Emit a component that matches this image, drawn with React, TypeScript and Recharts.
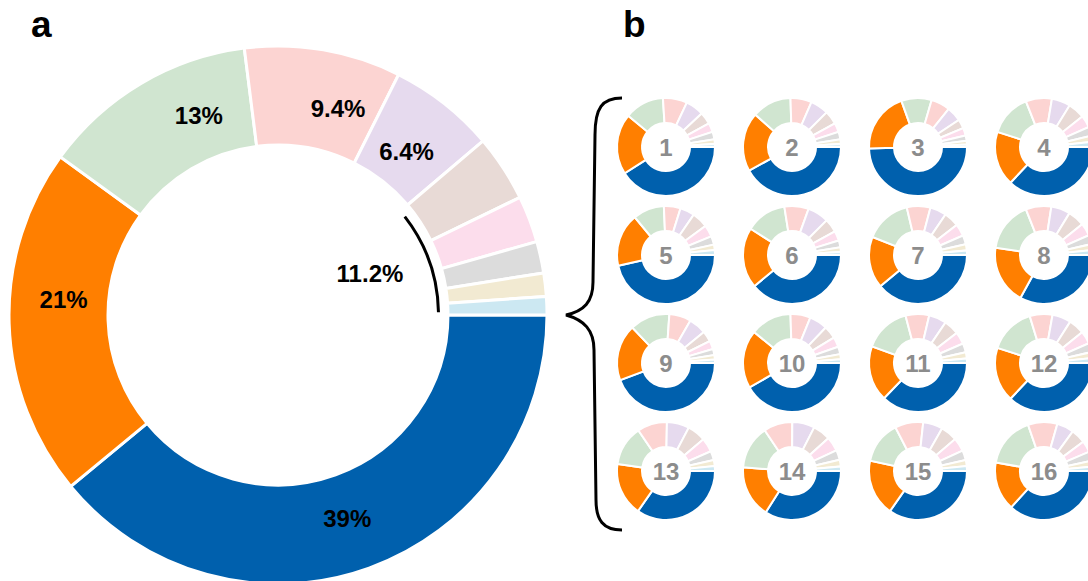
import { Cell, Pie, PieChart } from "recharts";

// Slice order, clockwise from 3 o'clock.
const SLICES = ["blue", "orange", "green", "pink", "purple", "brown", "rose", "grey", "sand", "sky"];

// Overall shares (%), panel a.
const OVERALL_SHARE = [39, 21, 13, 9.4, 6.4, 4.0, 2.8, 1.9, 1.4, 1.1];

// Shares (%) for the 16 subsets in panel b, one array per slice.
const BLUE = [41, 42, 49.5, 37, 46.5, 39, 39, 33, 44.3, 41.7, 37.2, 37, 34.7, 34, 34.7, 36.7];
const ORANGE = [20, 19.5, 20, 18, 17.5, 20, 17, 19.4, 18.6, 19.2, 18.3, 18, 17.6, 17.2, 18.7, 16.1];
const GREEN = [13, 13, 10, 14, 10.3, 13.5, 15.3, 16.6, 13.2, 13.6, 15.4, 15.3, 13.2, 14.4, 14, 16.9];
const PINK = [8, 7, 6.3, 8.6, 5.5, 8, 7.8, 8.4, 7.2, 6.6, 7.8, 7.5, 9.8, 9.5, 9.3, 9.7];
const PURPLE = [6, 6, 4.9, 6.2, 4.8, 7, 5.4, 6.3, 5.8, 6, 5.8, 6.2, 7.4, 7.4, 6.5, 5.6];
const BROWN = [4, 4.5, 3, 5.5, 5.3, 4.5, 5, 5.5, 3.5, 4.2, 5, 5.2, 6.1, 5.8, 5.5, 4.8];
const ROSE = [3, 3, 2.5, 4, 3.9, 3.2, 4, 4.2, 2.8, 3.3, 4, 4.2, 4.6, 4.8, 4.5, 3.8];
const GREY = [2.5, 2.5, 1.8, 3, 2.8, 2.3, 3, 3, 2, 2.5, 3, 3, 3, 3.2, 3.2, 3];
const SAND = [1.5, 1.5, 1.2, 2, 1.8, 1.5, 2, 2, 1.5, 1.7, 2, 2, 2, 2.2, 2, 2];
const SKY = [1, 1, 0.8, 1.7, 1.6, 1, 1.5, 1.6, 1.1, 1.2, 1.5, 1.6, 1.6, 1.5, 1.6, 1.4];

const SUBSET_SERIES = [BLUE, ORANGE, GREEN, PINK, PURPLE, BROWN, ROSE, GREY, SAND, SKY];
const SUBSET_LABELS = Array.from({ length: 16 }, (_, i) => String(i + 1));

const PALETTE = [
  "#0060AD", "#FF7F00", "#D0E5D0", "#FCD4D2", "#E6DAEE",
  "#E8DAD6", "#FCDDEC", "#DCDCDC", "#F2EAD2", "#CCE8F2",
];

const FONT = '"Liberation Sans", Arial, sans-serif';
const W = 1088;
const H = 581;

// panel a geometry
const MAIN_CX = 278;
const MAIN_CY = 315;
const HEAD = 5; // slices labelled individually; the rest are grouped
// hand-placed label offsets (deg) so text sits clear of the edges
const LABEL_NUDGE = [-1, -6, -9, -6.5, 0];

// panel b grid
const GRID_X = [666, 792, 918, 1044];
const GRID_Y = [147, 255, 363, 471];

const RAD = Math.PI / 180;

const mainData = SLICES.map((name, i) => ({ name, value: OVERALL_SHARE[i] }));
const tailShare = OVERALL_SHARE.slice(HEAD).reduce((a, b) => a + b, 0);
const headShare = OVERALL_SHARE.slice(0, HEAD).reduce((a, b) => a + b, 0);
const total = headShare + tailShare;

const subsets = SUBSET_LABELS.map((label, k) => ({
  label,
  cx: GRID_X[k % 4],
  cy: GRID_Y[Math.floor(k / 4)],
  data: SLICES.map((name, j) => ({ name, value: SUBSET_SERIES[j][k] })),
}));

function polar(cx: number, cy: number, r: number, angle: number) {
  return { x: cx + r * Math.cos(-angle * RAD), y: cy + r * Math.sin(-angle * RAD) };
}

function renderMainLabel(props: any) {
  const { cx, cy, midAngle, index, value } = props;
  if (index >= HEAD) return null;
  const r = index === 4 ? 208 : 215;
  const { x, y } = polar(cx, cy, r, midAngle + LABEL_NUDGE[index]);
  return (
    <text
      x={x}
      y={y}
      textAnchor="middle"
      dominantBaseline="central"
      fontFamily={FONT}
      fontWeight="bold"
      fontSize={24}
      fill="#000"
    >
      {`${value}%`}
    </text>
  );
}

function renderTailLabel(props: any) {
  const { cx, cy, midAngle } = props;
  const { x, y } = polar(cx, cy, 101, midAngle + 5);
  return (
    <text
      x={x}
      y={y}
      textAnchor="middle"
      dominantBaseline="central"
      fontFamily={FONT}
      fontWeight="bold"
      fontSize={24}
      fill="#000"
    >
      {`${tailShare.toFixed(1)}%`}
    </text>
  );
}

export default function App() {
  const tailStart = (-360 * headShare) / total;
  return (
    <div style={{ position: "absolute", left: 0, top: 0, width: W, height: H, background: "#fff" }}>
      <PieChart width={W} height={H} margin={{ top: 0, right: 0, bottom: 0, left: 0 }}>
        <Pie
          data={mainData}
          dataKey="value"
          cx={MAIN_CX}
          cy={MAIN_CY}
          innerRadius={170}
          outerRadius={269}
          startAngle={0}
          endAngle={-360}
          stroke="#fff"
          strokeWidth={3}
          label={renderMainLabel}
          labelLine={false}
          isAnimationActive={false}
        >
          {mainData.map((d, i) => (
            <Cell key={d.name} fill={PALETTE[i]} />
          ))}
        </Pie>
        {/* bracket marking the grouped minor slices */}
        <Pie
          data={[{ name: "tail", value: tailShare }]}
          dataKey="value"
          cx={MAIN_CX}
          cy={MAIN_CY}
          innerRadius={159}
          outerRadius={162}
          startAngle={tailStart - 2.5}
          endAngle={-359}
          fill="#000"
          stroke="none"
          label={renderTailLabel}
          labelLine={false}
          isAnimationActive={false}
        />
        {subsets.map((s) => (
          <Pie
            key={s.label}
            data={s.data}
            dataKey="value"
            cx={s.cx}
            cy={s.cy}
            innerRadius={24}
            outerRadius={49}
            startAngle={0}
            endAngle={-360}
            stroke="#fff"
            strokeWidth={2}
            isAnimationActive={false}
          >
            {s.data.map((d, i) => (
              <Cell key={d.name} fill={PALETTE[i]} />
            ))}
          </Pie>
        ))}
      </PieChart>
      <svg
        width={W}
        height={H}
        style={{ position: "absolute", left: 0, top: 0, pointerEvents: "none" }}
      >
        <text x={31} y={37} fontFamily={FONT} fontWeight="bold" fontSize={37} fill="#000">
          a
        </text>
        <text x={623} y={37} fontFamily={FONT} fontWeight="bold" fontSize={37} fill="#000">
          b
        </text>
        <path
          d="M 622 98 C 602 98, 595 108, 595 135 L 593 282 C 593 302, 584 311, 566 315 C 584 320, 594 330, 594 350 L 596 500 C 596 520, 603 530, 622 530"
          fill="none"
          stroke="#000"
          strokeWidth={3}
        />
        {subsets.map((s) => (
          <text
            key={s.label}
            x={s.cx}
            y={s.cy}
            textAnchor="middle"
            dominantBaseline="central"
            fontFamily={FONT}
            fontWeight="bold"
            fontSize={24}
            fill="#8C8C8C"
          >
            {s.label}
          </text>
        ))}
      </svg>
    </div>
  );
}
